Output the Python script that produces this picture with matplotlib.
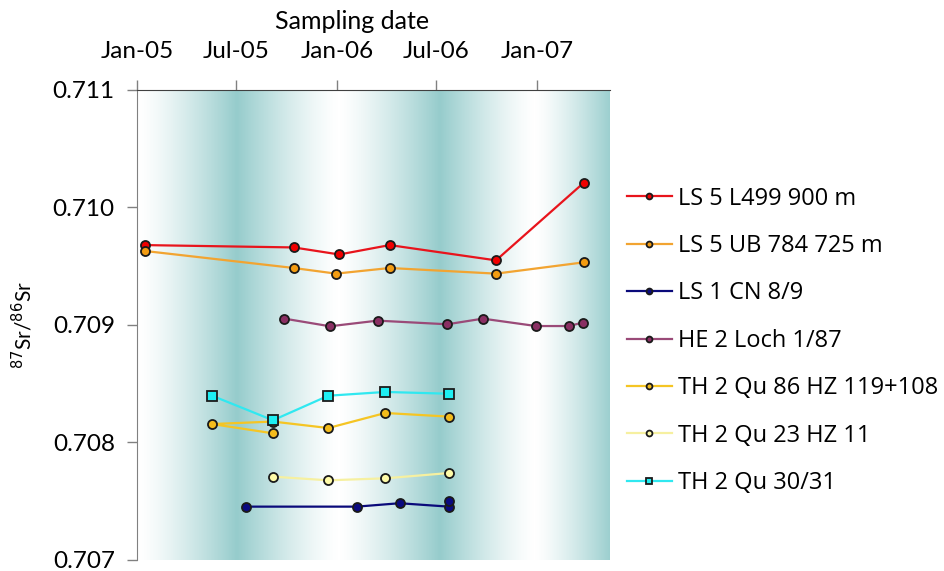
import numpy as np
import matplotlib
matplotlib.use("Agg")
import matplotlib.pyplot as plt
import matplotlib.dates as mdates
from matplotlib.colors import LinearSegmentedColormap
from matplotlib.font_manager import FontProperties

plt.rcParams['font.family'] = ['Lato', 'DejaVu Sans']

# sampling dates and 87Sr/86Sr ratios per well
ls5_l499_dates = ['2005-01-15', '2005-10-14', '2006-01-05', '2006-04-07', '2006-10-18', '2007-03-27']
ls5_l499_sr = [0.70968, 0.70966, 0.70960, 0.70968, 0.70955, 0.71021]

ls5_ub_dates = ['2005-01-15', '2005-10-14', '2005-12-30', '2006-04-07', '2006-10-18', '2007-03-27']
ls5_ub_sr = [0.70963, 0.709485, 0.709437, 0.709485, 0.709437, 0.709533]

ls1_cn_dates = ['2005-07-19', '2006-02-06', '2006-04-25', '2006-07-24', '2006-07-24']
ls1_cn_sr = [0.707454, 0.707454, 0.707483, 0.707454, 0.707505]

he2_dates = ['2005-09-27', '2005-12-19', '2006-03-16', '2006-07-21', '2006-09-24',
             '2006-12-30', '2007-02-28', '2007-03-25']
he2_sr = [0.709054, 0.708989, 0.709037, 0.709006, 0.709054, 0.708991, 0.708991, 0.709020]

th2_86_dates = ['2005-09-06', '2005-05-18', '2005-09-06', '2005-12-16', '2006-03-30', '2006-07-24']
th2_86_sr = [0.708078, 0.708157, 0.708178, 0.708123, 0.708251, 0.708220]

th2_23_dates = ['2005-09-06', '2005-12-16', '2006-03-30', '2006-07-24']
th2_23_sr = [0.707709, 0.707678, 0.707695, 0.707740]

th2_30_dates = ['2005-05-18', '2005-09-06', '2005-12-16', '2006-03-30', '2006-07-24']
th2_30_sr = [0.708398, 0.708189, 0.708398, 0.708430, 0.708415]

labels = ['LS 5 L499 900 m', 'LS 5 UB 784 725 m', 'LS 1 CN 8/9', 'HE 2 Loch 1/87',
          'TH 2 Qu 86 HZ 119+108', 'TH 2 Qu 23 HZ 11', 'TH 2 Qu 30/31']
tick_dates = ['2005-01-01', '2005-07-01', '2006-01-01', '2006-07-01', '2007-01-01']
tick_labels = ['Jan-05', 'Jul-05', 'Jan-06', 'Jul-06', 'Jan-07']

series = [
    (ls5_l499_dates, ls5_l499_sr, '#E8141C', '#F00000', 'o'),
    (ls5_ub_dates, ls5_ub_sr, '#F2A431', '#F39C12', 'o'),
    (ls1_cn_dates, ls1_cn_sr, '#0A0A7A', '#0A0A80', 'o'),
    (he2_dates, he2_sr, '#9A4A78', '#8A2F63', 'o'),
    (th2_86_dates, th2_86_sr, '#F5C524', '#F4BC1C', 'o'),
    (th2_23_dates, th2_23_sr, '#F6F0A0', '#FFFBA8', 'o'),
    (th2_30_dates, th2_30_sr, '#30E8F0', '#1DEEF2', 's'),
]

fig = plt.figure(figsize=(9.45, 5.71), dpi=100)
ax = fig.add_axes([0.145, 0.0193, 0.5005, 0.8231])

xmin = mdates.datestr2num('2005-01-01')
xmax = mdates.datestr2num('2007-05-14')
ymin, ymax = 0.707, 0.711

# seasonal shading behind the data: darker towards summer
grid = np.linspace(xmin, xmax, 900)
days = grid - xmin
knots = [0, 12, 182, 368, 553, 726, 863]
shade = [0.0, 0.05, 1.0, 0.0, 1.0, 0.0, 0.95]
tone = np.interp(days, knots, shade) ** 1.3
cmap = LinearSegmentedColormap.from_list('season', ['#FFFFFF', '#96CCCC'])
ax.imshow(tone[np.newaxis, :], aspect='auto', cmap=cmap, vmin=0, vmax=1,
          extent=[xmin, xmax, ymin, ymax], zorder=0, interpolation='bilinear')

for (d, v, lc, mc, m), lab in zip(series, labels):
    ax.plot(mdates.datestr2num(d), v, color=lc, lw=1.6, marker=m, markersize=6.5,
            markerfacecolor=mc, markeredgecolor='#1A1A1A', markeredgewidth=1.3,
            label=lab, zorder=3)

ax.set_xlim(xmin, xmax)
ax.set_ylim(ymin, ymax)

ax.xaxis.tick_top()
ax.xaxis.set_label_position('top')
ax.set_xticks(mdates.datestr2num(tick_dates))
ax.set_xticklabels(tick_labels)
ax.set_yticks([0.707, 0.708, 0.709, 0.710, 0.711])
ax.set_yticklabels(['0.707', '0.708', '0.709', '0.710', '0.711'])
ax.tick_params(axis='x', direction='out', length=7, width=1, color='#808080',
               labelsize=17.5, pad=13)
ax.tick_params(axis='y', direction='out', length=7, width=1, color='#808080',
               labelsize=17.5, pad=9)
ax.set_xlabel('Sampling date', fontsize=18, labelpad=6)
ax.xaxis.set_label_coords(0.455, 1.13)
ax.set_ylabel('$^{87}$Sr/$^{86}$Sr', fontsize=15, labelpad=12)

for side in ['right', 'bottom']:
    ax.spines[side].set_visible(False)
ax.spines['top'].set_color('#404040')
ax.spines['left'].set_color('#808080')

legend_font = FontProperties(family='Open Sans', size=17)
leg = fig.legend(loc='upper left', bbox_to_anchor=(0.6635, 0.673), frameon=False,
                 prop=legend_font, handlelength=1.9, handletextpad=0.27,
                 labelspacing=0.99, borderpad=0, borderaxespad=0, markerscale=0.65)

fig.savefig('out.png', dpi=100)
